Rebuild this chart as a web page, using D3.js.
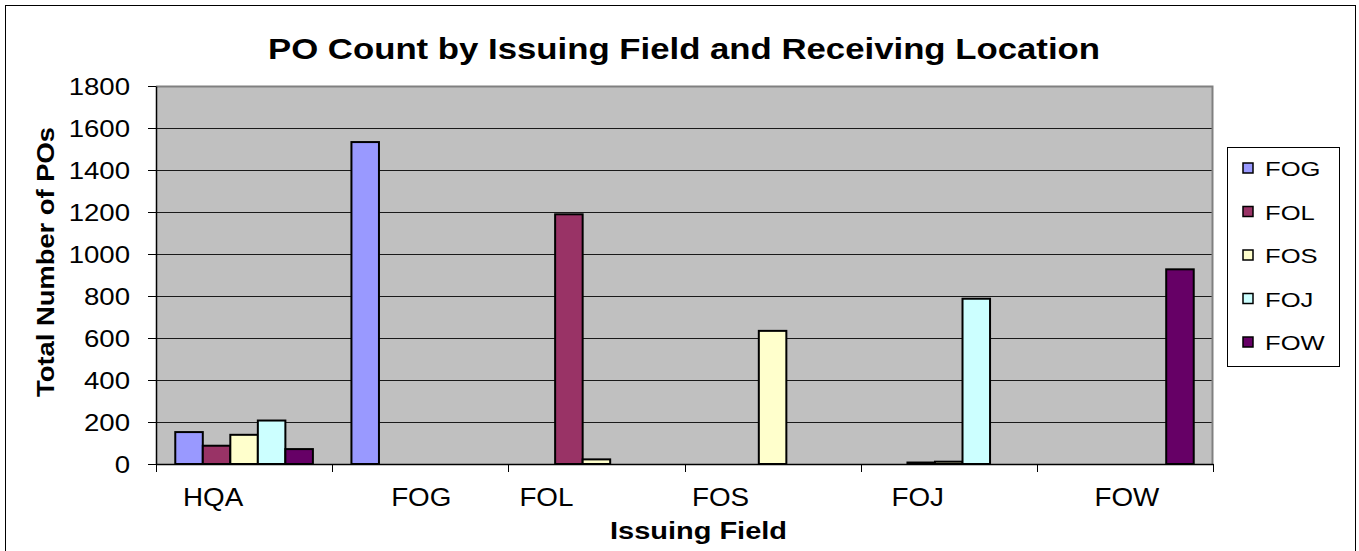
<!DOCTYPE html>
<html>
<head>
<meta charset="utf-8">
<script src="https://cdn.jsdelivr.net/npm/d3@7"></script>
<style>
  html, body { margin: 0; padding: 0; background: #fff; }
  svg { display: block; font-family: "Liberation Sans", Arial, sans-serif; }
</style>
</head>
<body>
<svg id="chart" width="1359" height="551"></svg>
<script>
// Issuing field groups on the x axis
const categories = ["HQA", "FOG", "FOL", "FOS", "FOJ", "FOW"];
// Receiving locations (one bar per location in each group)
const seriesNames = ["FOG", "FOL", "FOS", "FOJ", "FOW"];
const seriesColors = ["#9999FF", "#993366", "#FFFFCC", "#CCFFFF", "#660066"];
// PO counts per receiving location, in category order
const valuesFOG = [152, 1533, 0, 0, 0, 0];
const valuesFOL = [87, 0, 1189, 0, 7, 0];
const valuesFOS = [139, 0, 22, 634, 11, 0];
const valuesFOJ = [207, 0, 0, 0, 787, 0];
const valuesFOW = [71, 0, 0, 0, 0, 927];
const yTicks = [0, 200, 400, 600, 800, 1000, 1200, 1400, 1600, 1800];

const seriesValues = [valuesFOG, valuesFOL, valuesFOS, valuesFOJ, valuesFOW];
const rows = [];
categories.forEach((c, ci) => {
  seriesNames.forEach((s, si) => {
    rows.push({ category: c, series: s, value: seriesValues[si][ci], color: seriesColors[si] });
  });
});

const svg = d3.select("#chart");
const plot = { left: 156, right: 1213, top: 86, bottom: 464 };

// outer chart frame
svg.append("rect")
  .attr("x", 5.5).attr("y", 5.5)
  .attr("width", 1350).attr("height", 560)
  .attr("fill", "#fff").attr("stroke", "#000").attr("stroke-width", 1);

const x0 = d3.scaleBand().domain(categories).range([plot.left, plot.right]).padding(0);
const x1 = d3.scaleBand().domain(seriesNames).range([0, x0.bandwidth()])
  .paddingInner(0).paddingOuter(0.7);
const y = d3.scaleLinear().domain([0, 1800]).range([plot.bottom, plot.top]);

// plot background
svg.append("rect")
  .attr("x", plot.left).attr("y", plot.top)
  .attr("width", plot.right - plot.left).attr("height", plot.bottom - plot.top)
  .attr("fill", "#C0C0C0");

// horizontal gridlines
svg.append("g").selectAll("line")
  .data(yTicks.filter(t => t > 0 && t < 1800))
  .join("line")
  .attr("x1", plot.left).attr("x2", plot.right)
  .attr("y1", d => Math.round(y(d)) + 0.5).attr("y2", d => Math.round(y(d)) + 0.5)
  .attr("stroke", "#1a1a1a").attr("stroke-width", 1);

// plot border (top and right)
svg.append("path")
  .attr("d", `M${plot.left},${plot.top + 0.5}H${plot.right - 0.5}V${plot.bottom}`)
  .attr("fill", "none").attr("stroke", "#808080").attr("stroke-width", 2);

// bars
svg.append("g").selectAll("rect")
  .data(rows.filter(d => d.value > 0))
  .join("rect")
  .attr("x", d => x0(d.category) + x1(d.series))
  .attr("y", d => y(d.value))
  .attr("width", x1.bandwidth())
  .attr("height", d => y(0) - y(d.value))
  .attr("fill", d => d.color)
  .attr("stroke", "#000").attr("stroke-width", 2);

// y axis
const yAxis = svg.append("g")
  .attr("transform", `translate(${plot.left},0)`)
  .call(d3.axisLeft(y).tickValues(yTicks).tickSize(8).tickSizeOuter(0).tickPadding(0).tickFormat(d3.format("d")));
yAxis.select(".domain").attr("stroke", "#000").attr("stroke-width", 1.5);
yAxis.selectAll(".tick line").attr("stroke", "#000").attr("stroke-width", 1);
yAxis.selectAll(".tick text")
  .attr("x", null).attr("dy", null)
  .attr("transform", "translate(-26,8) scale(1.2,1)")
  .attr("font-size", 23).attr("fill", "#000")
  .attr("font-family", "Liberation Sans, Arial, sans-serif");

// x axis
const xAxis = svg.append("g")
  .attr("transform", `translate(0,${plot.bottom})`)
  .call(d3.axisBottom(x0).tickSize(0).tickSizeOuter(0).tickFormat(""));
xAxis.select(".domain").attr("stroke", "#000").attr("stroke-width", 1.5);
xAxis.selectAll(".tick").remove();

// tick marks at group boundaries
const boundaries = categories.map(c => x0(c)).concat([x0.range()[1]]);
xAxis.append("g").selectAll("line")
  .data(boundaries)
  .join("line")
  .attr("x1", d => Math.round(d) + 0.5).attr("x2", d => Math.round(d) + 0.5)
  .attr("y1", 0).attr("y2", 8)
  .attr("stroke", "#000").attr("stroke-width", 1);

// category labels (Excel-style placement shifts per label)
const labelShift = [-31, 1, -50, -52, -31, 2];
svg.append("g").selectAll("text")
  .data(categories)
  .join("text")
  .attr("transform", (d, i) => `translate(${x0(d) + x0.bandwidth() / 2 + labelShift[i]},506) scale(1.07,1)`)
  .attr("text-anchor", "middle")
  .attr("font-size", 26).attr("fill", "#000")
  .text(d => d);

// title
svg.append("text")
  .attr("x", 268).attr("y", 59)
  .attr("textLength", 832).attr("lengthAdjust", "spacingAndGlyphs")
  .attr("font-size", 30).attr("font-weight", "bold").attr("fill", "#000")
  .text("PO Count by Issuing Field and Receiving Location");

// axis titles
svg.append("text")
  .attr("x", 610).attr("y", 539)
  .attr("textLength", 177).attr("lengthAdjust", "spacingAndGlyphs")
  .attr("font-size", 23).attr("font-weight", "bold").attr("fill", "#000")
  .text("Issuing Field");

svg.append("text")
  .attr("transform", "translate(54,397) rotate(-90)")
  .attr("textLength", 270).attr("lengthAdjust", "spacingAndGlyphs")
  .attr("font-size", 23).attr("font-weight", "bold").attr("fill", "#000")
  .text("Total Number of POs");

// legend
const legend = svg.append("g");
legend.append("rect")
  .attr("x", 1227.5).attr("y", 147.5).attr("width", 112).attr("height", 219)
  .attr("fill", "#fff").attr("stroke", "#000").attr("stroke-width", 1);
const entries = legend.selectAll("g.entry")
  .data(seriesNames)
  .join("g").attr("class", "entry")
  .attr("transform", (d, i) => `translate(0,${168 + i * 43.5})`);
entries.append("rect")
  .attr("x", 1243).attr("y", -5).attr("width", 10).attr("height", 10)
  .attr("fill", (d, i) => seriesColors[i]).attr("stroke", "#000").attr("stroke-width", 1.5);
entries.append("text")
  .attr("transform", "translate(1265,8) scale(1.22,1)")
  .attr("font-size", 21).attr("fill", "#000")
  .text(d => d);
</script>
</body>
</html>
